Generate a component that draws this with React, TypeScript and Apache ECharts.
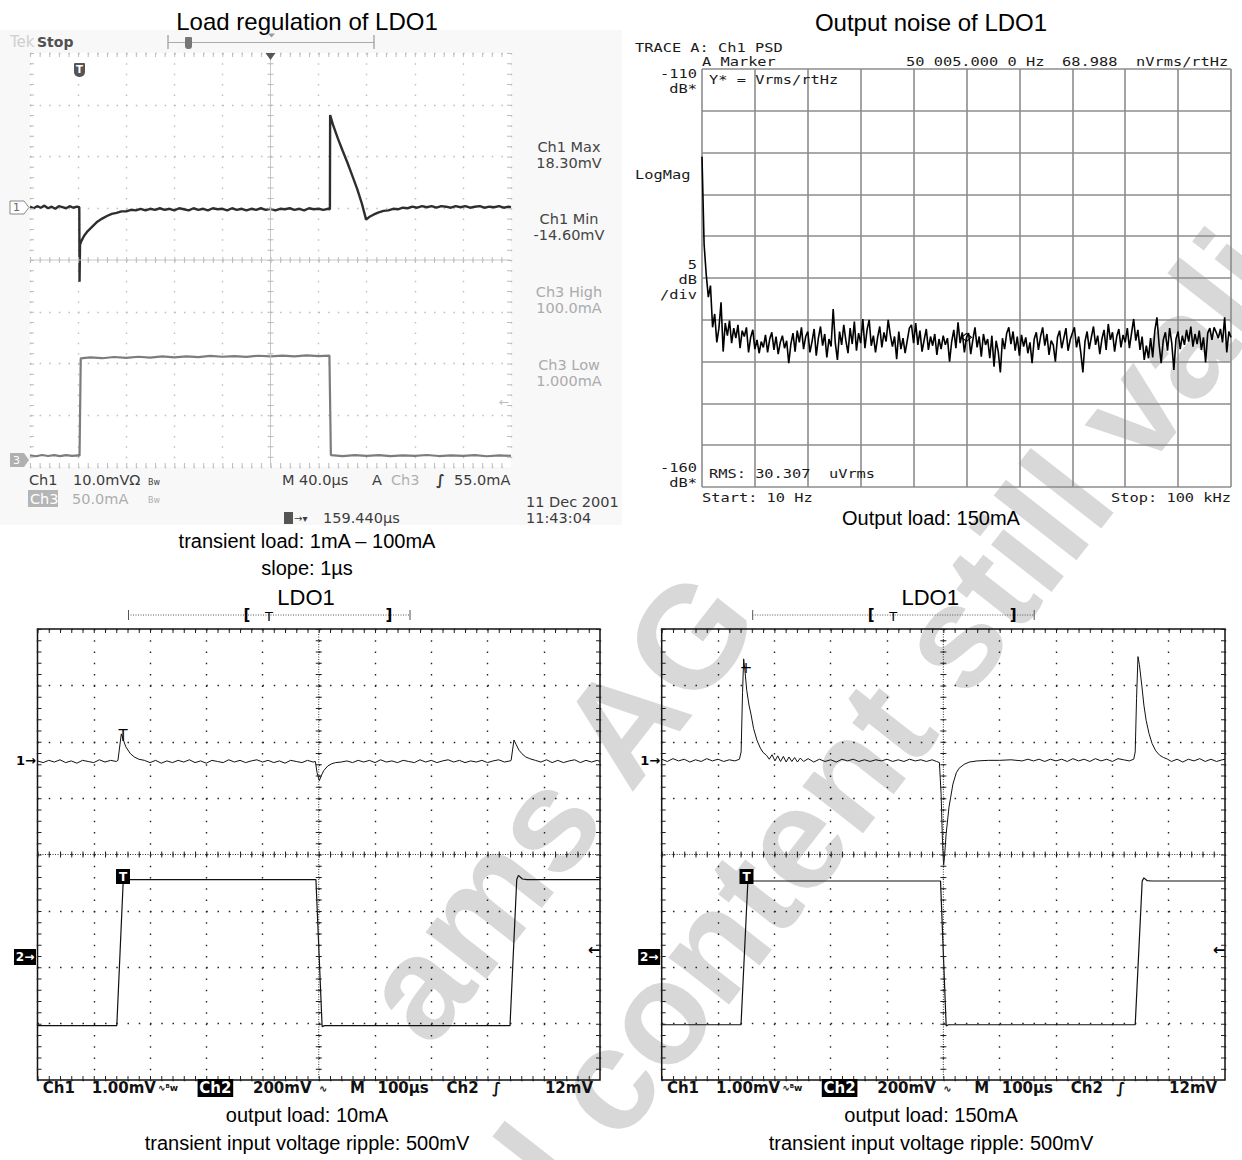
import React, { useEffect, useRef } from "react";
import * as echarts from "echarts";

// ================= DATA =================
// Panel 1 – Load regulation of LDO1 (time in µs, Ch1 in mV, Ch3 in mA)
const loadRegTitle = "Load regulation of LDO1";
const loadRegCaption = ["transient load: 1mA – 100mA", "slope: 1µs"];
const loadRegReadouts = [
  ["Ch1 Max", "18.30mV"],
  ["Ch1 Min", "-14.60mV"],
  ["Ch3 High", "100.0mA"],
  ["Ch3 Low", "1.000mA"],
];
const loadRegCh1 = [
  [0, 0.1], [3, -0.2], [6, 0.2], [9, -0.1], [12, 0.3], [15, -0.2], [18, 0.1], [21, -0.3], [24, 0.2], [27, 0],
  [30, -0.2], [33, 0.2], [36, -0.1], [39, 0.1], [41, 0], [41.2, -14.4], [41.6, -7.2], [43, -6.4], [45, -5.5],
  [48, -4.6], [52, -3.7], [56, -2.8], [60, -2.2], [64, -1.7], [68, -1.3], [72, -1.1], [76, -0.8], [80, -0.8],
  [84, -0.5], [88, -0.6], [92, -0.3], [96, -0.6], [100, -0.3], [104, -0.5], [108, -0.2], [112, -0.5], [116, -0.3],
  [120, -0.6], [124, -0.2], [128, -0.4], [132, -0.6], [136, -0.2], [140, -0.5], [144, -0.3], [148, -0.6],
  [152, -0.2], [156, -0.4], [160, -0.3], [164, -0.6], [168, -0.2], [172, -0.5], [176, -0.3], [180, -0.6],
  [184, -0.3], [188, -0.5], [192, -0.2], [196, -0.5], [200, -0.3], [204, -0.6], [208, -0.3], [212, -0.4],
  [216, -0.2], [220, -0.5], [224, -0.3], [228, -0.6], [232, -0.2], [236, -0.4], [240, -0.3], [244, -0.5],
  [248, -0.3], [249.4, -0.4], [249.6, 17.8], [252, 15.9], [256, 13.3], [260, 10.9], [264, 8.6], [268, 6.1],
  [272, 3.6], [276, 0.7], [279.5, -2.4], [282, -1.9], [286, -1.4], [290, -1.0], [294, -0.7], [298, -0.6],
  [302, -0.3], [306, -0.4], [310, -0.1], [314, -0.2], [318, 0.1], [322, -0.1], [326, 0.2], [330, 0], [334, 0.2],
  [338, -0.1], [342, 0.2], [346, 0.1], [350, -0.1], [354, 0.2], [358, 0], [362, 0.2], [366, -0.1], [370, 0.1],
  [374, 0.2], [378, -0.1], [382, 0.1], [386, 0], [390, 0.2], [394, -0.1], [398, 0.1], [400, 0],
];
const loadRegCh3 = [
  [0, 1.2], [5, 0.4], [10, 1.6], [15, 0.6], [20, 1.4], [25, 0.5], [30, 1.5], [35, 0.7], [40, 1.2], [41.2, 1],
  [42.2, 95.0], [50, 95.9], [60, 95.1], [70, 96.3], [80, 95.4], [90, 96.5], [100, 95.6], [110, 96.8],
  [120, 96.0], [130, 96.9], [140, 96.1], [150, 97.3], [160, 96.5], [170, 97.2], [180, 96.4], [190, 97.5],
  [200, 96.8], [210, 97.6], [220, 96.9], [230, 97.8], [240, 97.2], [249, 97.6], [250.2, 1.5], [260, 0.6],
  [270, 1.5], [280, 0.7], [290, 1.4], [300, 0.5], [310, 1.3], [320, 0.8], [330, 1.6], [340, 0.6], [350, 1.2],
  [360, 0.7], [370, 1.5], [380, 0.4], [390, 1.3], [400, 0.8],
];

// Panel 2 – Output noise of LDO1 (linear frequency span, dB Vrms/rtHz)
const noiseTitle = "Output noise of LDO1";
const noiseCaption = "Output load: 150mA";
const noiseStartHz = 10;
const noiseStopHz = 100000;
const noiseMarkerHz = 50005;
const noiseDb = [
  -120.5, -131.0, -134.6, -137.3, -135.9, -140.9, -139.3, -142.7, -141.0, -137.9,
  -143.8, -140.4, -141.9, -140.1, -142.8, -141.0, -142.2, -140.6, -143.4, -141.3,
  -142.0, -140.9, -143.9, -142.1, -141.2, -143.5, -142.4, -144.0, -142.6, -143.3,
  -141.8, -143.9, -142.3, -141.5, -143.6, -142.0, -144.1, -142.7, -141.9, -143.4,
  -142.5, -145.2, -142.9, -141.6, -143.8, -141.3, -142.7, -140.9, -143.5, -142.0,
  -141.4, -143.9, -142.6, -141.1, -144.3, -142.2, -140.8, -143.1, -141.7, -144.5,
  -142.3, -143.2, -138.7, -142.8, -144.8, -141.4, -143.0, -140.6, -142.5, -144.0,
  -141.0, -142.9, -140.2, -143.7, -141.6, -142.8, -139.9, -143.4, -141.2, -140.0,
  -143.1, -141.9, -143.9, -142.1, -140.8, -143.3, -141.5, -142.6, -140.0, -141.8,
  -143.2, -142.0, -144.7, -141.4, -143.5, -142.2, -144.0, -142.5, -141.0, -140.6,
  -142.8, -140.4, -143.0, -141.3, -143.8, -142.4, -141.1, -143.6, -142.0, -143.1,
  -141.7, -144.2, -142.3, -143.5, -141.9, -143.0, -142.2, -145.0, -142.6, -141.2,
  -143.4, -140.3, -142.8, -141.5, -143.9, -142.1, -141.6, -144.1, -142.4, -140.9,
  -143.3, -142.0, -144.4, -141.7, -143.0, -142.3, -144.6, -141.9, -145.6, -142.5,
  -143.8, -146.3, -142.2, -143.5, -141.6, -140.9, -142.9, -141.4, -143.7, -142.0,
  -144.3, -141.8, -143.2, -142.1, -144.0, -142.7, -145.2, -142.3, -141.5, -143.6,
  -142.0, -140.9, -143.1, -141.7, -144.2, -142.5, -143.0, -145.0, -142.1, -141.3,
  -143.4, -142.2, -141.0, -143.7, -142.4, -141.6, -140.9, -143.3, -142.0, -143.9,
  -146.3, -142.6, -141.4, -143.5, -142.1, -140.8, -143.0, -141.9, -144.1, -142.3,
  -141.2, -143.6, -140.5, -142.4, -141.5, -143.8, -142.0, -141.1, -143.3, -141.8,
  -142.7, -141.0, -143.4, -141.6, -139.9, -142.5, -141.2, -143.6, -142.0, -144.8,
  -143.1, -144.6, -142.2, -144.5, -141.3, -139.7, -142.9, -145.2, -142.4, -141.5,
  -143.7, -141.0, -142.8, -146.0, -142.3, -141.4, -143.5, -141.9, -143.0, -141.2,
  -142.6, -140.8, -143.2, -141.7, -142.9, -141.3, -143.6, -142.1, -145.1, -141.6,
  -141.0, -142.4, -140.9, -141.5, -142.2, -141.1, -142.7, -139.7, -143.9, -141.4,
  -142.1,
];

// Panels 3 & 4 – line transient (time in µs, Ch1 in mV, Ch2 in mV)
const rippleTitle = "LDO1";
const ripple10Caption = ["output load: 10mA", "transient input voltage ripple: 500mV"];
const ripple150Caption = ["output load: 150mA", "transient input voltage ripple: 500mV"];
const ripple10Ch1 = [
  [0, 0.01], [10, -0.02], [20, 0.02], [30, -0.01], [40, 0.03], [50, -0.02], [60, 0.01], [70, -0.03], [80, 0.02],
  [90, 0], [100, -0.02], [110, 0.03], [120, -0.01], [130, 0.02], [140, 0], [143, 0.02], [149, 0.49], [152, 0.4],
  [157, 0.26], [165, 0.14], [172, 0.08], [180, 0.04], [190, 0.02], [200, -0.02], [210, 0.02], [220, -0.03],
  [230, 0.01], [240, -0.02], [250, 0.02], [260, -0.01], [270, 0.03], [280, -0.02], [290, 0.01], [300, -0.03],
  [310, 0.02], [320, 0], [330, -0.02], [340, 0.03], [350, -0.01], [360, 0.02], [370, -0.02], [380, 0.01],
  [390, 0.03], [400, -0.01], [410, 0.02], [420, -0.02], [430, 0.01], [440, -0.03], [450, 0.02], [460, 0],
  [470, -0.02], [480, 0.02], [490, -0.01], [494, 0], [497, -0.2], [501, -0.34], [505, -0.24], [509, -0.16],
  [516, -0.08], [523, -0.04], [530, -0.02], [540, -0.01], [550, 0.01], [560, -0.02], [570, 0.02], [580, -0.01],
  [590, 0.02], [600, -0.02], [610, 0.03], [620, -0.01], [630, 0.01], [640, -0.02], [650, 0.02], [660, 0],
  [670, -0.02], [680, 0.03], [690, -0.01], [700, 0.02], [710, -0.02], [720, 0.01], [730, 0.03], [740, -0.01],
  [750, 0.02], [760, -0.02], [770, 0.01], [780, -0.01], [790, 0.02], [800, -0.02], [810, 0.01], [820, 0.03],
  [830, -0.01], [840, 0.01], [842, 0.02], [847, 0.38], [851, 0.3], [856, 0.2], [861, 0.14], [868, 0.08],
  [875, 0.05], [885, 0.02], [895, -0.01], [905, 0.03], [915, -0.02], [925, 0.02], [935, -0.02], [945, 0.01],
  [955, 0.03], [965, -0.02], [975, 0.02], [985, -0.01], [995, 0.02], [1000, 0],
];
const ripple10Ch2 = [
  [0, -241], [141, -241], [152.5, 277], [160, 277], [495, 277], [506, -245], [510, -241], [840, -241],
  [852, 277], [855, 292], [862, 279], [870, 277], [1000, 277],
];
const ripple150Ch1 = [
  [0, 0.02], [10, -0.02], [20, 0.03], [30, -0.01], [40, 0.02], [50, -0.03], [60, 0.01], [70, -0.02], [80, 0.03],
  [90, -0.01], [100, 0.02], [110, -0.02], [120, 0.01], [130, -0.01], [138, 0.02], [141, 0.15], [143.5, 1.2],
  [145.5, 1.8], [147.5, 1.62], [151, 1.24], [155, 0.98], [158.5, 0.82], [163, 0.57], [169, 0.36], [175, 0.22],
  [180, 0.14], [186, 0.09], [191, 0.02], [196, 0.1], [201, -0.01], [206, 0.08], [211, -0.02], [216, 0.07],
  [221, -0.03], [226, 0.06], [231, -0.02], [236, 0.05], [241, -0.03], [246, 0.04], [252, -0.02], [260, 0.03],
  [270, -0.03], [280, 0.02], [290, -0.02], [300, 0.01], [310, -0.03], [320, 0.02], [330, -0.01], [340, 0.02],
  [350, -0.02], [360, 0.01], [370, -0.02], [380, 0.01], [390, -0.01], [400, 0.02], [410, -0.02], [420, 0.01],
  [430, -0.02], [440, 0.02], [450, -0.01], [460, 0.01], [470, -0.02], [480, 0.01], [488, -0.02], [493, -0.04],
  [496, -0.6], [498.5, -1.45], [500.5, -1.86], [502, -1.72], [505, -1.3], [510, -0.83], [517, -0.42],
  [523, -0.22], [528, -0.14], [537, -0.07], [546, -0.03], [560, -0.01], [580, 0], [600, 0], [620, 0.01],
  [640, -0.01], [650, 0.02], [660, -0.01], [670, 0.02], [680, -0.02], [690, 0.02], [700, -0.01], [710, 0.02],
  [720, -0.02], [730, 0.03], [740, -0.01], [750, 0.02], [760, -0.02], [770, 0.03], [780, -0.01], [790, 0.02],
  [800, -0.02], [810, 0.03], [820, 0.01], [830, -0.01], [838, 0.02], [840.6, 0.15], [843, 1.1], [845.5, 1.84],
  [848, 1.7], [852.6, 1.3], [856, 0.98], [860, 0.71], [865, 0.48], [870.5, 0.3], [877, 0.17], [884, 0.09],
  [891, 0.05], [898, 0.02], [905, -0.02], [915, 0.02], [925, -0.03], [935, 0.02], [945, -0.01], [955, 0.03],
  [965, -0.02], [975, 0.02], [985, -0.02], [995, 0.01], [1000, 0.02],
];
const ripple150Ch2 = [
  [0, -238], [140.8, -238], [153, 272], [160, 272], [495, 272], [505, -242], [509, -238], [840.6, -238],
  [853, 272], [856, 283], [862, 273], [870, 272], [1000, 272],
];
const rippleReadout = ["Ch1", "1.00mV", "Ch2", "200mV", "M", "100µs", "Ch2", "12mV"];
const watermarkLines = ["ams AG", "technical content still valid"];

// ================= LAYOUT / STYLE =================
const W = 1242;
const H = 1160;
const CAP = "'Liberation Sans', Arial, sans-serif";
const TEK = "'DejaVu Sans', sans-serif";
const MONO = "'DejaVu Sans Mono', monospace";

const gTL = { left: 30, top: 53, width: 481, height: 414 };
const gNZ = { left: 702, top: 69, width: 529, height: 418 };
const gBL = { left: 37.5, top: 629, width: 562.5, height: 451 };
const gBR = { left: 661.7, top: 629, width: 563.3, height: 451 };

// channel reference (in divisions from centre) and scale per division
const tlCh1 = { ref: 1.02, perDiv: 10 };
const tlCh3 = { ref: -3.8, perDiv: 50 };
const blCh1 = { ref: 1.65, perDiv: 1 };
const blCh2 = { ref: -1.83, perDiv: 200 };
const brCh1 = { ref: 1.67, perDiv: 1 };
const brCh2 = { ref: -1.83, perDiv: 200 };

function t(text, x, y, size, o: any = {}) {
  return {
    type: "text",
    x,
    y,
    z: o.z ?? 20,
    silent: true,
    rotation: o.rotation ?? 0,
    scaleX: o.scaleX ?? 1,
    style: {
      text,
      fill: o.color ?? "#000",
      font: `${o.weight ?? "normal"} ${size}px ${o.family ?? CAP}`,
      textAlign: o.align ?? "left",
      textVerticalAlign: "middle",
      verticalAlign: "middle",
    },
  };
}
function ln(x1, y1, x2, y2, stroke, lineWidth, dash?: number[] | null, z = 5) {
  return {
    type: "line",
    silent: true,
    z,
    shape: { x1, y1, x2, y2 },
    style: { stroke, lineWidth, lineDash: dash || null, fill: null },
  };
}
function rect(x, y, w, h, fill, o: any = {}) {
  return {
    type: "rect",
    silent: true,
    z: o.z ?? 20,
    shape: { x, y, width: w, height: h, r: o.r ?? 0 },
    style: { fill, stroke: o.stroke ?? null, lineWidth: o.lw ?? 1 },
  };
}
function poly(points, fill, stroke?, z = 20) {
  return { type: "polygon", silent: true, z, shape: { points }, style: { fill, stroke: stroke ?? null, lineWidth: 1 } };
}

function graticule(g, cross, crossDash, tick) {
  const { left: L, top: T, width: Wd, height: Ht } = g;
  const cx = L + Wd / 2;
  const cy = T + Ht / 2;
  const px = Wd / 50;
  const py = Ht / 40;
  return [
    ln(L, cy, L + Wd, cy, cross, 1, crossDash),
    ln(cx, T, cx, T + Ht, cross, 1, crossDash),
    ln(L, cy, L + Wd, cy, tick, 6, [1, px - 1]),
    ln(cx, T, cx, T + Ht, tick, 6, [1, py - 1]),
    ln(L, T + 2, L + Wd, T + 2, tick, 4, [1, px - 1]),
    ln(L, T + Ht - 2, L + Wd, T + Ht - 2, tick, 4, [1, px - 1]),
    ln(L + 2, T, L + 2, T + Ht, tick, 4, [1, py - 1]),
    ln(L + Wd - 2, T, L + Wd - 2, T + Ht, tick, 4, [1, py - 1]),
  ];
}

function divAxes(gridIndex, g, color, width, dotted) {
  const px = g.width / 50;
  const py = g.height / 40;
  const x = {
    type: "value", gridIndex, min: 0, max: 10, interval: 1,
    axisLine: { show: false }, axisTick: { show: false }, axisLabel: { show: false },
    splitLine: { show: true, lineStyle: { color, width, type: dotted ? [1.5, py - 1.5] : "solid" } },
  };
  const y = {
    type: "value", gridIndex, min: -4, max: 4, interval: 1,
    axisLine: { show: false }, axisTick: { show: false }, axisLabel: { show: false },
    splitLine: { show: true, lineStyle: { color, width, type: dotted ? [1.5, px - 1.5] : "solid" } },
  };
  return { x, y };
}
function hidden(gridIndex, min, max) {
  return { type: "value", gridIndex, min, max, show: false, splitLine: { show: false } };
}
function chanRange(c) {
  return [(-4 - c.ref) * c.perDiv, (4 - c.ref) * c.perDiv];
}

function rippleScopeDecor(g, dx, ch1Marker) {
  const L = g.left, Wd = g.width;
  const els: any[] = [];
  els.push(t(rippleTitle, 306 + dx, 597, 22, { align: "center" }));
  els.push(ln(128 + dx, 615, 410 + dx, 615, "#555", 1, [1, 1.5]));
  els.push(ln(128.5 + dx, 610, 128.5 + dx, 620, "#555", 1));
  els.push(ln(410 + dx, 610, 410 + dx, 620, "#555", 1));
  els.push(t("[", 247 + dx, 615, 15, { weight: "bold", family: TEK, align: "center" }));
  els.push(t("T", 269 + dx, 616, 13, { family: TEK, align: "center" }));
  els.push(t("]", 389 + dx, 615, 15, { weight: "bold", family: TEK, align: "center" }));
  els.push(t("1→", L - 1.5, 760, 13, { weight: "bold", family: TEK, align: "right" }));
  els.push(rect(L - 23.5, 949, 22, 16, "#000"));
  els.push(t("2→", L - 12.5, 957, 12, { weight: "bold", family: TEK, align: "center", color: "#fff", z: 21 }));
  els.push(t("←", L + Wd - 6, 950, 15, { weight: "bold", family: TEK, align: "center" }));
  els.push(rect(ch1Marker.tBoxX, 869, 14, 15, "#000", { z: 22 }));
  els.push(t("T", ch1Marker.tBoxX + 7, 876.5, 12, { weight: "bold", family: TEK, align: "center", color: "#fff", z: 23 }));
  els.push(t(ch1Marker.glyph, ch1Marker.x, ch1Marker.y, 15, { family: TEK, align: "center", z: 22 }));
  const y = 1088;
  const f = { weight: "bold", family: TEK, color: "#111" };
  els.push(t(rippleReadout[0], 42.7 + dx, y, 15, f));
  els.push(t(rippleReadout[1], 91.7 + dx, y, 15, f));
  els.push(t("∿ᴮw", 158 + dx, y, 9, f));
  els.push(rect(197.6 + dx, y - 9, 35.6, 18, "#000"));
  els.push(t(rippleReadout[2], 215.4 + dx, y, 15, { ...f, align: "center", color: "#fff", z: 21 }));
  els.push(t(rippleReadout[3], 253 + dx, y, 15, f));
  els.push(t("∿", 319 + dx, y, 10, f));
  els.push(t(rippleReadout[4], 350 + dx, y, 15, f));
  els.push(t(rippleReadout[5], 377.5 + dx, y, 15, f));
  els.push(t(rippleReadout[6], 446.6 + dx, y, 15, f));
  els.push(t("∫", 492 + dx, y, 15, f));
  els.push(t(rippleReadout[7], 593 + dx, y, 15, { ...f, align: "right" }));
  return els;
}

function buildOption() {
  const tlD = divAxes(0, gTL, "#bdbdbd", 1.4, true);
  const nzX = {
    type: "value", gridIndex: 1, min: 0, max: 10, interval: 1,
    axisLine: { show: false }, axisTick: { show: false }, axisLabel: { show: false },
    splitLine: { show: true, lineStyle: { color: "#8c8c8c", width: 1.6 } },
  };
  const nzY = {
    type: "value", gridIndex: 1, min: -160, max: -110, interval: 5,
    axisLine: { show: false }, axisTick: { show: false }, axisLabel: { show: false },
    splitLine: { show: true, lineStyle: { color: "#8c8c8c", width: 1.6 } },
  };
  const blD = divAxes(2, gBL, "#222", 1.4, true);
  const brD = divAxes(3, gBR, "#222", 1.4, true);

  const xAxis = [
    tlD.x, hidden(0, 0, 400),
    nzX, hidden(1, noiseStartHz, noiseStopHz),
    blD.x, hidden(2, 0, 1000),
    brD.x, hidden(3, 0, 1000),
  ];
  const r1 = chanRange(tlCh1), r3 = chanRange(tlCh3);
  const b1 = chanRange(blCh1), b2 = chanRange(blCh2);
  const c1 = chanRange(brCh1), c2 = chanRange(brCh2);
  const yAxis = [
    tlD.y, hidden(0, r1[0], r1[1]), hidden(0, r3[0], r3[1]),
    nzY,
    blD.y, hidden(2, b1[0], b1[1]), hidden(2, b2[0], b2[1]),
    brD.y, hidden(3, c1[0], c1[1]), hidden(3, c2[0], c2[1]),
  ];

  const binHz = (noiseStopHz - noiseStartHz) / (noiseDb.length - 1);
  const noiseData = noiseDb.map((v, i) => [noiseStartHz + i * binHz, v]);
  const markerIdx = Math.round((noiseMarkerHz - noiseStartHz) / binHz);

  const line = (xi, yi, data, color, width, extra: any = {}) => ({
    type: "line", xAxisIndex: xi, yAxisIndex: yi, data, symbol: "none", showSymbol: false,
    silent: true, z: 3, lineStyle: { color, width }, ...extra,
  });

  const series = [
    line(1, 2, loadRegCh3, "#7c7c7c", 2.2),
    line(1, 1, loadRegCh1, "#2e2e2e", 2.4),
    line(3, 3, noiseData, "#000", 1.6, {
      markPoint: {
        symbol: "diamond", symbolSize: [10, 8], silent: true,
        itemStyle: { color: "rgba(0,0,0,0)", borderColor: "#000", borderWidth: 1 },
        label: { show: false },
        data: [{ coord: [noiseMarkerHz, noiseDb[markerIdx]] }],
      },
    }),
    line(5, 6, ripple10Ch2, "#111", 1.2),
    line(5, 5, ripple10Ch1, "#111", 1),
    line(7, 9, ripple150Ch2, "#111", 1.2),
    line(7, 8, ripple150Ch1, "#111", 1),
  ];

  const els: any[] = [];
  // watermark (under everything)
  const rot = (52 * Math.PI) / 180;
  els.push(t(watermarkLines[0], 558, 806, 145, { weight: "bold", color: "#d8d8d8", align: "center", rotation: rot, z: -5 }));
  els.push(t(watermarkLines[1], 738, 912, 145, { weight: "bold", color: "#d8d8d8", align: "center", rotation: rot, z: -5 }));

  // ---- Panel 1 decorations ----
  els.push(rect(0, 30, 622, 495, "#f8f8f8", { z: -10 }));
  els.push(rect(gTL.left, gTL.top, gTL.width, gTL.height, "#ffffff", { z: -9 }));
  els.push(...graticule(gTL, "#c8c8c8", null, "#bcbcbc"));
  els.push(t(loadRegTitle, 307, 21, 24, { align: "center" }));
  els.push(t("Tek", 10, 42, 15, { family: TEK, color: "#cfcfcf" }));
  els.push(t("Stop", 37, 42, 14, { family: TEK, weight: "bold", color: "#505050" }));
  els.push(ln(168, 35, 168, 49, "#999", 1.2));
  els.push(ln(168, 42.5, 374, 42.5, "#aaa", 1.2));
  els.push(ln(374, 35, 374, 49, "#999", 1.2));
  els.push(rect(185, 37, 7, 12, "#777", { r: [1, 1, 3, 3] }));
  els.push(poly([[268, 33.5], [275, 33.5], [271.5, 37.5]], "#999"));
  els.push(poly([[265.5, 53], [275.5, 53], [270.5, 60]], "#555"));
  els.push(rect(74, 63, 11, 14, "#555", { r: [1, 1, 5, 5] }));
  els.push(t("T", 79.5, 69, 10, { family: TEK, weight: "bold", color: "#fff", align: "center", z: 21 }));
  els.push(poly([[10, 201], [24, 201], [29, 207.5], [24, 214], [10, 214]], "#fff", "#888"));
  els.push(t("1", 16.5, 207.5, 11, { family: TEK, color: "#666", align: "center", z: 21 }));
  els.push(poly([[10, 453], [24, 453], [29, 460], [24, 467], [10, 467]], "#b0b0b0"));
  els.push(t("3", 16.5, 460, 11, { family: TEK, color: "#fff", align: "center", z: 21 }));
  const roY = [[147, 163], [219, 235], [292, 308], [365, 381]];
  loadRegReadouts.forEach((r, i) => {
    const col = i < 2 ? "#444" : "#ababab";
    els.push(t(r[0], 569, roY[i][0], 14.5, { family: TEK, color: col, align: "center" }));
    els.push(t(r[1], 569, roY[i][1], 14.5, { family: TEK, color: col, align: "center" }));
  });
  els.push(t("←", 504, 402, 12, { family: TEK, color: "#bbb", align: "center" }));
  const tf = { family: TEK, color: "#3c3c3c" };
  els.push(t("Ch1", 29, 480, 14.5, tf));
  els.push(t("10.0mVΩ", 73, 480, 14.5, tf));
  els.push(t("Bw", 148, 482, 8, tf));
  els.push(t("M 40.0µs", 282, 480, 14.5, tf));
  els.push(t("A", 372, 480, 14.5, tf));
  els.push(t("Ch3", 391, 480, 14.5, { family: TEK, color: "#b0b0b0" }));
  els.push(t("∫", 436, 480, 14.5, { ...tf, weight: "bold" }));
  els.push(t("55.0mA", 454, 480, 14.5, tf));
  els.push(rect(28, 490, 30, 17, "#b5b5b5"));
  els.push(t("Ch3", 30, 498.5, 14.5, { family: TEK, color: "#fff", z: 21 }));
  els.push(t("50.0mA", 72, 498.5, 14.5, { family: TEK, color: "#adadad" }));
  els.push(t("Bw", 148, 500, 8, { family: TEK, color: "#adadad" }));
  els.push(rect(284, 512, 9, 12, "#555"));
  els.push(t("→▾", 294, 518, 10, tf));
  els.push(t("159.440µs", 323, 518, 14.5, tf));
  els.push(t("11 Dec 2001", 526, 502, 14.5, tf));
  els.push(t("11:43:04", 526, 518, 14.5, tf));
  els.push(t(loadRegCaption[0], 307, 541, 20, { align: "center" }));
  els.push(t(loadRegCaption[1], 307, 568, 20, { align: "center" }));

  // ---- Panel 2 decorations ----
  const m = { family: MONO, color: "#1a1a1a", scaleX: 1.18 };
  const mr = { ...m, align: "right" };
  const ms = 13;
  els.push(t(noiseTitle, 931, 22, 24, { align: "center" }));
  els.push(t("TRACE A: Ch1 PSD", 635, 47, ms, m));
  els.push(t("A Marker", 702, 61, ms, m));
  els.push(t("50 005.000 0 Hz", 906, 61, ms, m));
  els.push(t("68.988", 1062, 61, ms, m));
  els.push(t("nVrms/rtHz", 1136, 61, ms, m));
  els.push(t("-110", 697, 73, ms, mr));
  els.push(t("dB*", 697, 88, ms, mr));
  els.push(t("Y* = Vrms/rtHz", 709, 79, ms, m));
  els.push(t("LogMag", 635, 174, ms, m));
  els.push(t("5", 697, 264, ms, mr));
  els.push(t("dB", 697, 279, ms, mr));
  els.push(t("/div", 697, 294, ms, mr));
  els.push(t("-160", 697, 467, ms, mr));
  els.push(t("dB*", 697, 482, ms, mr));
  els.push(t("RMS: 30.307  uVrms", 709, 473, ms, m));
  els.push(t("Start: 10 Hz", 702, 497, ms, m));
  els.push(t("Stop: 100 kHz", 1231, 497, ms, mr));
  els.push(t(noiseCaption, 931, 518, 20, { align: "center" }));

  // ---- Panels 3 & 4 decorations ----
  els.push(...graticule(gBL, "#333", [1, 1.5], "#222"));
  els.push(...graticule(gBR, "#333", [1, 1.5], "#222"));
  els.push(...rippleScopeDecor(gBL, 0, { tBoxX: 116, glyph: "T", x: 123, y: 736 }));
  els.push(...rippleScopeDecor(gBR, 624.2, { tBoxX: 739.5, glyph: "+", x: 746, y: 668 }));
  els.push(t(ripple10Caption[0], 307, 1115, 20, { align: "center" }));
  els.push(t(ripple10Caption[1], 307, 1143, 20, { align: "center" }));
  els.push(t(ripple150Caption[0], 931, 1115, 20, { align: "center" }));
  els.push(t(ripple150Caption[1], 931, 1143, 20, { align: "center" }));

  const grid = [
    { ...gTL, show: false },
    { ...gNZ, show: false },
    { ...gBL, show: true, borderColor: "#111", borderWidth: 1.5, backgroundColor: "transparent" },
    { ...gBR, show: true, borderColor: "#111", borderWidth: 1.5, backgroundColor: "transparent" },
  ];

  return {
    animation: false,
    backgroundColor: "#ffffff",
    grid,
    xAxis,
    yAxis,
    series,
    graphic: { elements: els },
  };
}

export default function App() {
  const ref = useRef<HTMLDivElement>(null);
  useEffect(() => {
    if (!ref.current) return;
    const chart = echarts.init(ref.current, null, { renderer: "svg", width: W, height: H });
    chart.setOption(buildOption() as any);
    return () => chart.dispose();
  }, []);
  return (
    <div
      ref={ref}
      style={{ position: "absolute", left: 0, top: 0, width: W + "px", height: H + "px", background: "#fff" }}
    />
  );
}
